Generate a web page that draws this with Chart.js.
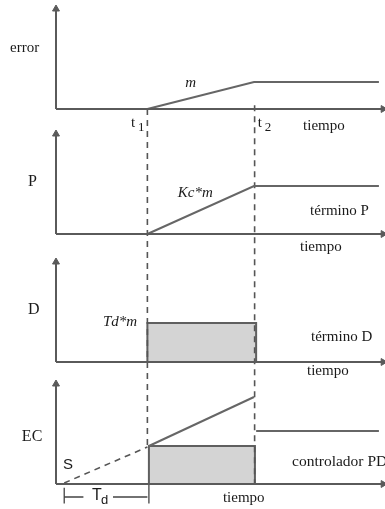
<!DOCTYPE html>
<html><head><meta charset="utf-8">
<script src="https://cdn.jsdelivr.net/npm/chart.js@4"></script>
<style>html,body{margin:0;padding:0;background:#fff}canvas{display:block}</style>
</head><body>
<canvas id="c" width="385" height="509"></canvas>
<script>
// ── Data: time axis in arbitrary units, values relative to each panel's baseline ──
const T1 = 3.0, T2 = 6.5, T_END = 10.6, T_S = 0.27;
const errT  = [T1, T2, T_END],        errV  = [0, 0.216, 0.216];
const pT    = [T1, T2, T_END],        pV    = [0, 0.384, 0.384];
const dT    = [T1, T1, 6.57, 6.57],   dV    = [0, 0.312, 0.312, 0];
const ecBoxT  = [3.05, 3.05, 6.53, 6.53], ecBoxV  = [0, 0.304, 0.304, 0];
const ecRampT = [3.05, T2],           ecRampV = [0.304, 0.696];
const ecFlatT = [6.57, T_END],        ecFlatV = [0.424, 0.424];
const sT    = [T_S, T1],              sV    = [0.008, 0.296];
const tdT   = [T_S, T_S, null, T_S, 0.9, null, 1.87, T1, null, 3.05, 3.05];
const tdV   = [-0.03, -0.155, null, -0.104, -0.104, null, -0.104, -0.104, null, 0, -0.155];

// ── Layout ────────────────────────────────────────────────────────────────────
const BASE = [3.0, 2.0, 0.976, 0];   // panel baselines: error, P, D, EC
const AX_H = 0.8, AX_END = 10.74;
const AXC = '#5a5a5a', LNC = '#666', FILL = '#d4d4d4';
const SERIF = '"Liberation Serif","DejaVu Serif",serif', SANS = '"Liberation Sans",Arial,sans-serif';

const pts = (ts, vs, b) => ts.map((t,i)=>({x:t===null?NaN:t, y:vs[i]===null?NaN:b+vs[i]}));
const line = (data, extra) => Object.assign({data, borderColor:LNC, borderWidth:2, pointRadius:0, fill:false, tension:0, order:2}, extra||{});

const datasets = [];
BASE.forEach(b=>{
  datasets.push(line([{x:0,y:b},{x:0,y:b+AX_H}], {borderColor:AXC, order:1, pointRadius:[0,4], pointStyle:'triangle', rotation:[0,0], pointBackgroundColor:AXC, pointBorderColor:AXC, pointBorderWidth:1}));
  datasets.push(line([{x:0,y:b},{x:AX_END,y:b}], {borderColor:AXC, order:1, pointRadius:[0,4], pointStyle:'triangle', rotation:[0,90], pointBackgroundColor:AXC, pointBorderColor:AXC, pointBorderWidth:1}));
});
datasets.push(line(pts(errT, errV, BASE[0])));
datasets.push(line(pts(pT, pV, BASE[1])));
datasets.push(line(pts(dT, dV, BASE[2]), {fill:{value:BASE[2]}, backgroundColor:FILL, borderColor:'#5f5f5f', order:5}));
datasets.push(line(pts(ecBoxT, ecBoxV, BASE[3]), {fill:{value:BASE[3]}, backgroundColor:FILL, borderColor:'#5f5f5f', order:5}));
datasets.push(line(pts(ecRampT, ecRampV, BASE[3])));
datasets.push(line(pts(ecFlatT, ecFlatV, BASE[3])));
datasets.push(line(pts(sT, sV, BASE[3]), {borderDash:[6,5], borderWidth:1.6, borderColor:'#555'}));
datasets.push(line(pts(tdT, tdV, BASE[3]), {borderWidth:1.3, borderColor:'#444', spanGaps:false}));
// dashed guides at t1 and t2
datasets.push(line([{x:T1,y:BASE[0]},{x:T1,y:BASE[3]+0.3}], {borderDash:[6,5], borderWidth:1.6, borderColor:'#555', order:3}));
datasets.push(line([{x:T2+0.02,y:BASE[0]+0.03},{x:T2+0.02,y:BASE[3]}], {borderDash:[6,5], borderWidth:1.6, borderColor:'#555', order:3}));

// ── Text labels: [text, t, panel, value, font] ────────────────────────────────
const labels = [
  ['error', -1.51, 0, 0.488, '15px '+SERIF],
  ['m', 4.24, 0, 0.208, 'italic 15px '+SERIF],
  ['t', 2.46, 0, -0.112, '15px '+SERIF], ['1', 2.69, 0, -0.15, '13px '+SERIF],
  ['t', 6.62, 0, -0.112, '15px '+SERIF], ['2', 6.85, 0, -0.15, '13px '+SERIF],
  ['tiempo', 8.11, 0, -0.136, '15px '+SERIF],
  ['P', -0.92, 1, 0.416, '16px '+SERIF],
  ['Kc*m', 4.0, 1, 0.328, 'italic 15px '+SERIF],
  ['término P', 8.34, 1, 0.184, '15px '+SERIF],
  ['tiempo', 8.01, 1, -0.104, '15px '+SERIF],
  ['D', -0.92, 2, 0.416, '16px '+SERIF],
  ['Td*m', 1.54, 2, 0.32, 'italic 15px '+SERIF],
  ['término D', 8.37, 2, 0.2, '15px '+SERIF],
  ['tiempo', 8.24, 2, -0.072, '15px '+SERIF],
  ['EC', -1.12, 3, 0.376, '16px '+SERIF],
  ['S', 0.23, 3, 0.152, '15px '+SANS],
  ['controlador PD', 7.75, 3, 0.176, '15.5px '+SERIF],
  ['tiempo', 5.48, 3, -0.112, '15px '+SERIF],
  ['T', 1.18, 3, -0.096, '16px '+SANS], ['d', 1.48, 3, -0.128, '13px '+SANS],
];
const textPlugin = {
  id:'texts',
  afterDraw(chart){
    const ctx=chart.ctx, xs=chart.scales.x, ys=chart.scales.y;
    ctx.save(); ctx.fillStyle='#1a1a1a'; ctx.textAlign='left'; ctx.textBaseline='middle';
    labels.forEach(([txt,t,p,v,font])=>{ ctx.font=font; ctx.fillText(txt, xs.getPixelForValue(t), ys.getPixelForValue(BASE[p]+v)); });
    ctx.restore();
  }
};

new Chart(document.getElementById('c').getContext('2d'), {
  type:'line',
  data:{datasets},
  options:{
    responsive:false, animation:false, events:[],
    layout:{padding:0, autoPadding:false},
    plugins:{legend:{display:false}, tooltip:{enabled:false}},
    scales:{
      x:{type:'linear', min:-1.838, max:10.80, display:false},
      y:{type:'linear', min:-0.2, max:3.872, display:false}
    }
  },
  plugins:[textPlugin]
});
</script>
</body></html>
